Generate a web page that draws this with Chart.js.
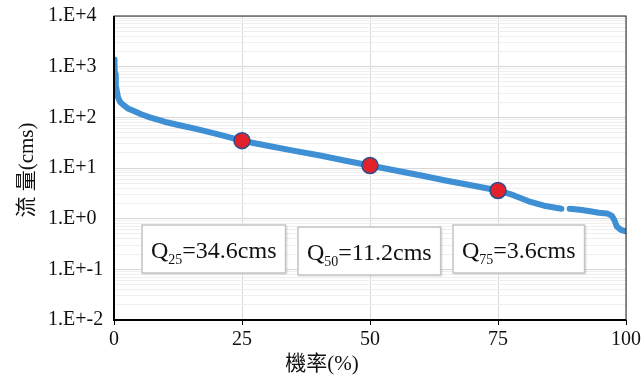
<!DOCTYPE html>
<html>
  <head>
    <meta charset="UTF-8" />
    <title>Flow Duration Curve</title>
    <script src="https://cdn.jsdelivr.net/npm/chart.js"></script>
    <style>
      html,
      body {
        margin: 0;
        padding: 0;
        background: #fff;
      }
      #wrap {
        width: 644px;
        height: 379px;
      }
    </style>
  </head>
  <body>
    <div id="wrap"><canvas id="fdc" width="644" height="379"></canvas></div>
  </body>
  <script>
    // exceedance probability (%) and flow (cms)
    const probs = [
      0, 0.1, 0.2, 0.35, 0.6, 0.8, 1.2, 1.75, 2.7, 4, 5.3, 7, 10, 13, 16, 20,
      25, 30, 35, 40, 45, 50, 55, 60, 65, 70, 75, 78, 81, 84, 87.4, 88.2, 89,
      91, 93, 94.7, 96.3, 97.2, 97.7, 98.2, 99, 100,
    ];
    const flows = [
      1380, 1000, 700, 430, 310, 245, 200, 178, 150, 132, 115, 100, 81, 69, 59,
      47, 34.6, 27.5, 22, 17.8, 14.1, 11.2, 8.9, 7.1, 5.6, 4.5, 3.6, 2.9, 2.2,
      1.8, 1.57, null, 1.57, 1.5, 1.4, 1.31, 1.27, 1.15, 0.95, 0.7, 0.6, 0.56,
    ];

    // quartile markers
    const qProbs = [25, 50, 75];
    const qFlows = [34.6, 11.2, 3.6];

    // axes
    const xTicks = [0, 25, 50, 75, 100];
    const yTickValues = [0.01, 0.1, 1, 10, 100, 1000, 10000];
    const yTickLabels = ["1.E+-2", "1.E+-1", "1.E+0", "1.E+1", "1.E+2", "1.E+3", "1.E+4"];

    const serif = '"Liberation Serif", "Times New Roman", "Noto Sans CJK TC", serif';

    const curve = probs.map((p, i) => ({ x: p, y: flows[i] }));
    const quart = qProbs.map((p, i) => ({ x: p, y: qFlows[i] }));

    // box, titles and the Q labels
    const decor = {
      id: "decor",
      afterDatasetsDraw(chart) {
        const ctx = chart.ctx;
        const a = chart.chartArea;
        ctx.save();
        // frame
        ctx.strokeStyle = "#222";
        ctx.lineWidth = 1;
        ctx.strokeRect(a.left, a.top, a.right - a.left, a.bottom - a.top);
        ctx.lineWidth = 2;
        ctx.strokeStyle = "#000";
        ctx.beginPath();
        ctx.moveTo(a.left, a.top);
        ctx.lineTo(a.left, a.bottom);
        ctx.lineTo(a.right, a.bottom);
        ctx.stroke();

        // Q boxes
        const lefts = [142, 298, 453];
        const top = 225;
        const h = 48;
        qProbs.forEach((p, i) => {
          const rest = "=" + qFlows[i] + "cms";
          ctx.font = "24px " + serif;
          const wQ = ctx.measureText("Q").width;
          const wRest = ctx.measureText(rest).width;
          ctx.font = "14px " + serif;
          const wSub = ctx.measureText(String(p)).width;
          const w = wQ + wSub + wRest + 18;
          const x0 = lefts[i];
          const y0 = top + (i === 1 ? 2 : 0);
          ctx.shadowColor = "rgba(0,0,0,0.18)";
          ctx.shadowOffsetX = 1;
          ctx.shadowOffsetY = 1;
          ctx.shadowBlur = 2;
          ctx.fillStyle = "#fff";
          ctx.fillRect(x0, y0, w, h);
          ctx.shadowColor = "transparent";
          ctx.strokeStyle = "#c4c4c4";
          ctx.lineWidth = 1.5;
          ctx.strokeRect(x0, y0, w, h);
          ctx.fillStyle = "#111";
          ctx.textBaseline = "alphabetic";
          ctx.textAlign = "left";
          ctx.font = "24px " + serif;
          ctx.fillText("Q", x0 + 9, y0 + 33);
          ctx.font = "14px " + serif;
          ctx.fillText(String(p), x0 + 9 + wQ, y0 + 39);
          ctx.font = "24px " + serif;
          ctx.fillText(rest, x0 + 9 + wQ + wSub, y0 + 33);
        });

        // axis titles
        ctx.fillStyle = "#111";
        ctx.font = "21px " + serif;
        ctx.textAlign = "center";
        ctx.textBaseline = "middle";
        ctx.fillText("機率(%)", 322, 364);
        ctx.translate(27, 170);
        ctx.rotate(-Math.PI / 2);
        ctx.fillText("流 量(cms)", 0, 0);
        ctx.restore();
      },
    };

    new Chart(document.getElementById("fdc"), {
      type: "scatter",
      data: {
        datasets: [
          {
            label: "quartiles",
            data: quart,
            pointRadius: 8,
            pointHoverRadius: 8,
            backgroundColor: "#e3212b",
            borderColor: "#24528f",
            borderWidth: 1.5,
            order: 0,
          },
          {
            label: "flow",
            data: curve,
            showLine: true,
            spanGaps: false,
            pointRadius: 0,
            borderColor: "#3f8fd4",
            borderWidth: 6,
            borderCapStyle: "round",
            borderJoinStyle: "round",
            tension: 0,
            order: 1,
          },
        ],
      },
      options: {
        responsive: false,
        animation: false,
        events: [],
        layout: { padding: { left: 48, right: 17, top: 13, bottom: 0 } },
        plugins: { legend: { display: false }, tooltip: { enabled: false } },
        scales: {
          x: {
            type: "linear",
            min: 0,
            max: 100,
            afterBuildTicks: (s) => {
              s.ticks = xTicks.map((v) => ({ value: v }));
            },
            afterFit: (s) => {
              s.height = 59;
            },
            grid: {
              color: "#d9d9d9",
              tickColor: "#000",
              tickLength: 5,
              lineWidth: 1,
            },
            border: { display: false },
            ticks: {
              color: "#111",
              padding: 3,
              maxRotation: 0,
              autoSkip: false,
              font: { family: serif, size: 20 },
            },
          },
          y: {
            type: "logarithmic",
            min: 0.01,
            max: 10000,
            afterBuildTicks: (s) => {
              const t = [];
              for (let e = -2; e <= 4; e++) {
                for (let k = 1; k <= 9; k++) {
                  const v = k * Math.pow(10, e);
                  if (v > 10000) break;
                  t.push({ value: v, major: k === 1 });
                }
              }
              s.ticks = t;
            },
            afterFit: (s) => {
              s.width = 66;
            },
            grid: {
              drawTicks: false,
              color: (c) => (c.tick && c.tick.major ? "#d6d6d6" : "#efefef"),
              lineWidth: 1,
            },
            border: { display: false },
            ticks: {
              color: "#111",
              autoSkip: false,
              crossAlign: "far",
              padding: 4,
              font: { family: serif, size: 20 },
              callback: (v) => {
                const i = yTickValues.findIndex((t) => Math.abs(t - v) / t < 1e-6);
                return i >= 0 ? yTickLabels[i] : "";
              },
            },
          },
        },
      },
      plugins: [decor],
    });
  </script>
</html>
